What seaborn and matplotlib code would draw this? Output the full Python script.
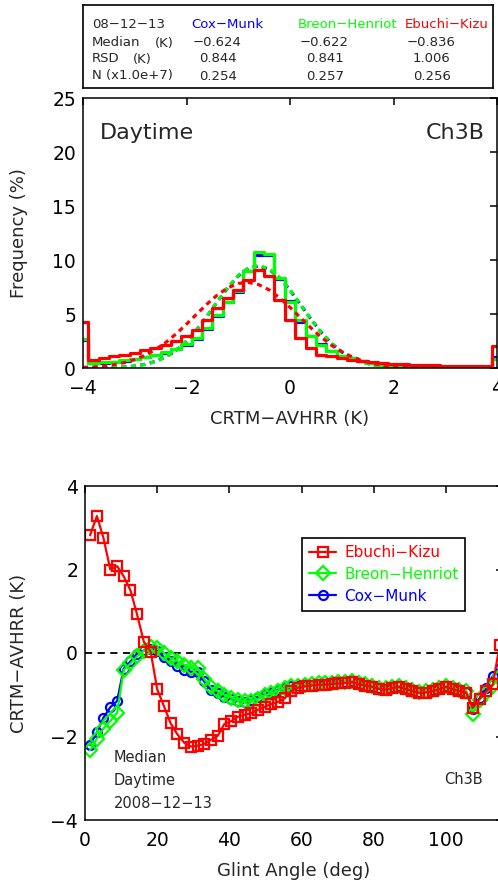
import matplotlib
matplotlib.use('Agg')
import matplotlib.pyplot as plt
import seaborn as sns

sns.set_style('white')
plt.rcParams['font.family'] = ['DejaVu Sans']

# ---- upper panel: histogram of CRTM-AVHRR (bin centres, K) ----
bin_k = [-4.0, -3.8, -3.6, -3.4, -3.2, -3.0, -2.8, -2.6, -2.4, -2.2, -2.0,
         -1.8, -1.6, -1.4, -1.2, -1.0, -0.8, -0.6, -0.4, -0.2, 0.0,
         0.2, 0.4, 0.6, 0.8, 1.0, 1.2, 1.4, 1.6, 1.8, 2.0,
         2.2, 2.4, 2.6, 2.8, 3.0, 3.2, 3.4, 3.6, 3.8, 4.0]
hist_em = [4.3, 0.77, 0.92, 1.07, 1.23, 1.38, 1.63, 1.85, 2.15, 2.46, 2.92,
           3.54, 4.46, 5.54, 6.46, 7.23, 8.15, 9.08, 8.5, 6.3, 4.46,
           2.77, 1.85, 1.23, 1.07, 0.9, 0.75, 0.62, 0.52, 0.45, 0.4,
           0.36, 0.32, 0.29, 0.26, 0.23, 0.21, 0.19, 0.17, 0.15, 2.0]
hist_bh = [2.7, 0.46, 0.52, 0.6, 0.7, 0.85, 1.0, 1.2, 1.45, 1.8, 2.2,
           2.77, 3.7, 4.9, 6.15, 7.1, 9.0, 10.7, 10.6, 8.3, 6.15,
           4.4, 2.92, 2.15, 1.54, 1.13, 0.9, 0.65, 0.45, 0.32, 0.22,
           0.16, 0.12, 0.1, 0.08, 0.07, 0.06, 0.05, 0.05, 0.04, 0.8]
hist_cm = [2.6, 0.45, 0.5, 0.58, 0.68, 0.83, 0.98, 1.18, 1.42, 1.78, 2.15,
           2.72, 3.65, 4.85, 6.1, 7.05, 8.95, 10.5, 10.5, 8.2, 6.2,
           4.3, 2.95, 2.2, 1.58, 1.15, 0.92, 0.66, 0.46, 0.33, 0.23,
           0.17, 0.13, 0.1, 0.08, 0.07, 0.06, 0.05, 0.05, 0.04, 1.0]
fit_em = [0.06, 0.10, 0.18, 0.31, 0.50, 0.78, 1.18, 1.71, 2.37, 3.16, 4.06,
          5.01, 5.94, 6.78, 7.43, 7.83, 7.92, 7.71, 7.22, 6.49, 5.62,
          4.67, 3.73, 2.86, 2.11, 1.50, 1.02, 0.67, 0.42, 0.26, 0.15,
          0.08, 0.05, 0.02, 0.01, 0.0, 0.0, 0.0, 0.0, 0.0, 0.0]
fit_bh = [0.0, 0.01, 0.02, 0.04, 0.09, 0.17, 0.33, 0.60, 1.02, 1.63, 2.48,
          3.56, 4.83, 6.19, 7.49, 8.58, 9.28, 9.49, 9.16, 8.37, 7.22,
          5.89, 4.54, 3.30, 2.27, 1.48, 0.91, 0.53, 0.29, 0.15, 0.07,
          0.03, 0.01, 0.0, 0.0, 0.0, 0.0, 0.0, 0.0, 0.0, 0.0]
fit_cm = [0.0, 0.01, 0.02, 0.04, 0.09, 0.18, 0.34, 0.61, 1.03, 1.64, 2.48,
          3.55, 4.81, 6.16, 7.45, 8.53, 9.23, 9.45, 9.12, 8.34, 7.21,
          5.89, 4.55, 3.32, 2.29, 1.50, 0.92, 0.54, 0.30, 0.15, 0.07,
          0.03, 0.01, 0.0, 0.0, 0.0, 0.0, 0.0, 0.0, 0.0, 0.0]

# ---- statistics box ----
models = ['Cox-Munk', 'Breon-Henriot', 'Ebuchi-Kizu']
stat_median = [-0.624, -0.622, -0.836]
stat_rsd = [0.844, 0.841, 1.006]
stat_n = [0.254, 0.257, 0.256]

# ---- lower panel: median difference vs glint angle ----
glint = [1.4, 3.3, 5.1, 7.0, 8.9, 10.7, 12.6, 14.4, 16.3, 18.2, 20.0,
         21.9, 23.7, 25.6, 27.5, 29.3, 31.2, 33.0, 34.9, 36.8, 38.6,
         40.5, 42.3, 44.2, 46.1, 47.9, 49.8, 51.6, 53.5, 55.4, 57.2,
         59.1, 60.9, 62.8, 64.7, 66.5, 68.4, 70.2, 72.1, 74.0, 75.8,
         77.7, 79.5, 81.4, 83.3, 85.1, 87.0, 88.8, 90.7, 92.6, 94.4,
         96.3, 98.1, 100.0, 101.9, 103.7, 105.6, 107.4, 109.3, 111.2, 113.0, 114.9]
med_em = [2.82, 3.28, 2.76, 2.0, 2.08, 1.84, 1.5, 0.93, 0.27, 0.03, -0.87,
          -1.28, -1.68, -1.95, -2.15, -2.24, -2.22, -2.18, -2.08, -1.98, -1.7,
          -1.63, -1.53, -1.48, -1.44, -1.36, -1.29, -1.22, -1.17, -1.08, -0.9,
          -0.83, -0.8, -0.78, -0.76, -0.76, -0.74, -0.73, -0.72, -0.7, -0.74,
          -0.78, -0.81, -0.86, -0.88, -0.84, -0.81, -0.86, -0.91, -0.96, -0.95,
          -0.91, -0.87, -0.81, -0.87, -0.91, -0.95, -1.31, -1.1, -0.92, -0.75, 0.2]
med_bh = [-2.33, -2.05, -1.81, -1.63, -1.43, -0.41, -0.25, -0.08, 0.05, 0.15, 0.12,
          0.0, -0.12, -0.2, -0.28, -0.36, -0.36, -0.62, -0.82, -0.92, -1.0,
          -1.07, -1.12, -1.16, -1.15, -1.1, -1.01, -0.97, -0.9, -0.85, -0.8,
          -0.79, -0.77, -0.75, -0.73, -0.73, -0.71, -0.7, -0.69, -0.67, -0.71,
          -0.75, -0.79, -0.83, -0.85, -0.81, -0.79, -0.83, -0.88, -0.93, -0.92,
          -0.88, -0.84, -0.78, -0.84, -0.88, -0.92, -1.45, -1.12, -0.95, -0.78, -0.55]
med_cm = [-2.2, -1.9, -1.55, -1.3, -1.15, -0.38, -0.2, -0.02, 0.06, 0.1, 0.05,
          -0.1, -0.2, -0.32, -0.4, -0.45, -0.45, -0.68, -0.88, -0.97, -1.05,
          -1.1, -1.15, -1.18, -1.12, -1.05, -0.98, -0.95, -0.88, -0.84, -0.8,
          -0.8, -0.78, -0.76, -0.74, -0.74, -0.72, -0.71, -0.7, -0.68, -0.72,
          -0.76, -0.8, -0.84, -0.86, -0.82, -0.8, -0.84, -0.89, -0.94, -0.93,
          -0.89, -0.85, -0.79, -0.85, -0.89, -0.93, -1.33, -1.08, -0.85, -0.55, -0.35]

RED, GREEN, BLUE = '#ff0000', '#00ff00', '#0000ff'
W, H = 498, 882


def px_box(l, t, r, b):
    return [l / W, 1 - b / H, (r - l) / W, (b - t) / H]


def ptext(x, y, s, **kw):
    kw.setdefault('va', 'center')
    return fig.text(x / W, 1 - y / H, s, **kw)


def minus(s):
    return s.replace('-', '\u2212')


fig = plt.figure(figsize=(W / 100, H / 100), dpi=100)

# statistics box
axt = fig.add_axes(px_box(83, 5, 493, 88))
axt.set_xticks([])
axt.set_yticks([])
for sp in axt.spines.values():
    sp.set_color('black')
    sp.set_linewidth(1.2)

fs_box = 9.5
ptext(92, 24, minus('08-12-13'), fontsize=fs_box)
ptext(92, 43, 'Median', fontsize=fs_box)
ptext(155, 43, '(K)', fontsize=fs_box)
ptext(92, 59, 'RSD', fontsize=fs_box)
ptext(133, 59, '(K)', fontsize=fs_box)
ptext(92, 76, 'N (x1.0e+7)', fontsize=fs_box)
col_x = [191, 298, 405]
for cx, name, c, md, rs, nn in zip(col_x, models, [BLUE, GREEN, RED],
                                   stat_median, stat_rsd, stat_n):
    ptext(cx, 24, minus(name), fontsize=fs_box, color=c)
    ptext(cx + 2, 43, minus(f'{md:.3f}'), fontsize=fs_box)
    ptext(cx + 8, 59, f'{rs:.3f}', fontsize=fs_box)
    ptext(cx + 8, 76, f'{nn:.3f}', fontsize=fs_box)

# histogram panel
ax1 = fig.add_axes(px_box(83, 98, 497, 368))
hist_lw = 2.3
dash = (0, (1.6, 1.4))
for h, f, c in [(hist_cm, fit_cm, BLUE), (hist_bh, fit_bh, GREEN), (hist_em, fit_em, RED)]:
    sns.lineplot(x=bin_k, y=h, ax=ax1, color=c, lw=hist_lw, drawstyle='steps-mid',
                 estimator=None, sort=False)
    sns.lineplot(x=bin_k, y=f, ax=ax1, color=c, lw=hist_lw, linestyle=dash,
                 estimator=None, sort=False)
ax1.set_xlim(-4, 4)
ax1.set_ylim(0, 25)
ax1.set_xticks([-4, -2, 0, 2, 4])
ax1.set_yticks([0, 5, 10, 15, 20, 25])
ax1.set_xlabel(minus('CRTM-AVHRR (K)'), fontsize=13)
ax1.set_ylabel('Frequency (%)', fontsize=13)
ax1.xaxis.set_label_coords(0.5, -0.155)
ax1.yaxis.set_label_coords(-0.133, 0.5)
ax1.text(0.04, 0.87, 'Daytime', transform=ax1.transAxes, fontsize=16, va='center')
ax1.text(0.97, 0.87, 'Ch3B', transform=ax1.transAxes, fontsize=16, va='center', ha='right')

# glint angle panel
ax2 = fig.add_axes(px_box(85, 486, 503, 820))
ax2.axhline(0, color='black', lw=1.3, ls=(0, (4, 3)))
line_kw = dict(lw=1.6, markerfacecolor='none', markeredgewidth=1.6, estimator=None, sort=False)
sns.lineplot(x=glint, y=med_cm, ax=ax2, color=BLUE, marker='o', markersize=6.5,
             markeredgecolor=BLUE, label=minus('Cox-Munk'), **line_kw)
sns.lineplot(x=glint, y=med_bh, ax=ax2, color=GREEN, marker='D', markersize=7,
             markeredgecolor=GREEN, label=minus('Breon-Henriot'), **line_kw)
sns.lineplot(x=glint, y=med_em, ax=ax2, color=RED, marker='s', markersize=7.5,
             markeredgecolor=RED, label=minus('Ebuchi-Kizu'), **line_kw)
ax2.set_xlim(0, 115.8)
ax2.set_ylim(-4, 4)
ax2.set_xticks([0, 20, 40, 60, 80, 100])
ax2.set_yticks([-4, -2, 0, 2, 4])
ax2.set_xlabel('Glint Angle (deg)', fontsize=13)
ax2.set_ylabel(minus('CRTM-AVHRR (K)'), fontsize=13)
ax2.xaxis.set_label_coords(0.5, -0.125)
ax2.yaxis.set_label_coords(-0.136, 0.5)

handles, labels = ax2.get_legend_handles_labels()
order = [2, 1, 0]
leg = ax2.legend([handles[i] for i in order], [labels[i] for i in order],
                 loc='upper left', bbox_to_anchor=(302 / W, 1 - 538 / H),
                 bbox_transform=fig.transFigure, borderaxespad=0, fancybox=False,
                 framealpha=1, edgecolor='black', fontsize=11, handlelength=1.8,
                 handletextpad=0.5, labelspacing=0.45, borderpad=0.45)
leg.get_frame().set_linewidth(1.2)
for t, c in zip(leg.get_texts(), [RED, GREEN, BLUE]):
    t.set_color(c)

ptext(114, 758, 'Median', fontsize=10.5)
ptext(114, 780, 'Daytime', fontsize=10.5)
ptext(114, 803, minus('2008-12-13'), fontsize=10.5)
ptext(483, 780, 'Ch3B', fontsize=10.5, ha='right')

for ax in (ax1, ax2):
    for sp in ax.spines.values():
        sp.set_color('black')
        sp.set_linewidth(1.1)
    ax.tick_params(direction='in', length=5, width=1.1, top=True, right=True,
                   labelsize=13.5, colors='black')
    ax.tick_params(axis='x', pad=8)
    ax.tick_params(axis='y', pad=5)

fig.savefig('out.png', dpi=100)
